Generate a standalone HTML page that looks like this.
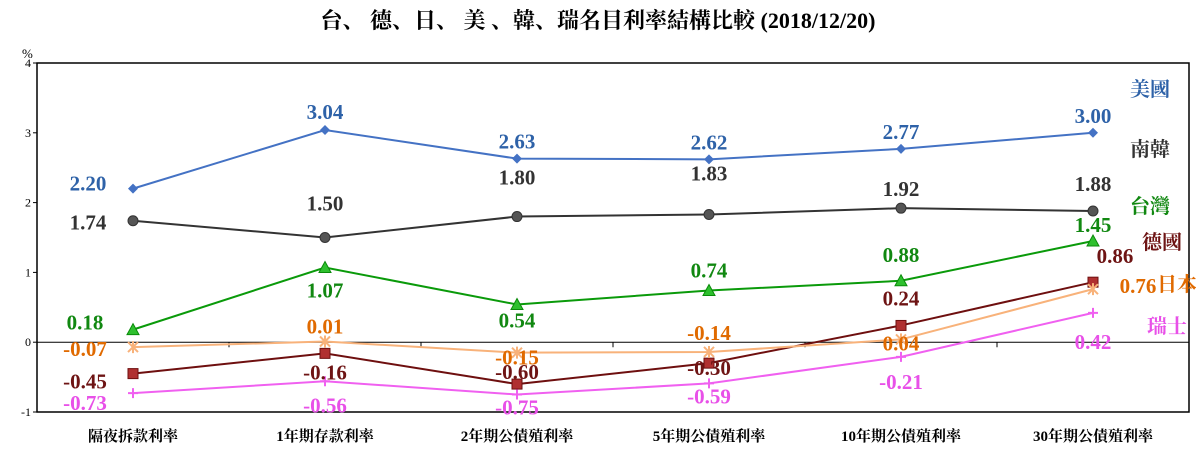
<!DOCTYPE html>
<html><head><meta charset="utf-8"><style>
body{margin:0;background:#fff;}
svg text{font-family:"Liberation Serif","Noto Serif CJK SC","Noto Sans CJK TC",serif;}
</style></head><body>
<svg id="chart" width="1196" height="449" xmlns="http://www.w3.org/2000/svg">
<text x="598" y="28" text-anchor="middle" font-size="22" font-weight="bold">台、 德、日、 美 、韓、瑞名目利率結構比較 (2018/12/20)</text>
<text x="22" y="58" font-size="13">%</text>
<g id="axes"></g><g id="series"></g><g id="labels"></g>
</svg>
<script>
const categories=["隔夜拆款利率","1年期存款利率","2年期公債殖利率","5年期公債殖利率","10年期公債殖利率","30年期公債殖利率"];
const yTicks=[-1,0,1,2,3,4];
const usVals=[2.20,3.04,2.63,2.62,2.77,3.00];
const krVals=[1.74,1.50,1.80,1.83,1.92,1.88];
const twVals=[0.18,1.07,0.54,0.74,0.88,1.45];
const deVals=[-0.45,-0.16,-0.60,-0.30,0.24,0.86];
const jpVals=[-0.07,0.01,-0.15,-0.14,0.04,0.76];
const chVals=[-0.73,-0.56,-0.75,-0.59,-0.21,0.42];
const L=37,R=1189,T=63,B=412;
const x=i=>L+(R-L)/categories.length*(i+0.5);
const y=v=>B-(v+1)/5*(B-T);
const NS="http://www.w3.org/2000/svg";
function mk(p,t,a){const e=document.createElementNS(NS,t);for(const k in a)e.setAttribute(k,a[k]);p.appendChild(e);return e;}
const ax=document.getElementById('axes');
const frame=mk(ax,'rect',{x:L,y:T,width:R-L,height:B-T,fill:'none',stroke:'#000','stroke-width':1.5});


const zl=mk(ax,'line',{x1:L,x2:R,y1:y(0),y2:y(0),stroke:'#000','stroke-width':1});


yTicks.forEach(v=>{
  mk(ax,'line',{x1:L-4,x2:L,y1:y(v),y2:y(v),stroke:'#000'});
  const t=mk(ax,'text',{x:L-6,y:y(v)+4,'text-anchor':'end','font-size':12});
  t.textContent=v;
  
  
});
categories.forEach((c,i)=>{
  const bx=L+(R-L)/categories.length*i;
  if(i>0) mk(ax,'line',{x1:bx,x2:bx,y1:y(0),y2:y(0)+5,stroke:'#000'});
  const t=mk(ax,'text',{x:x(i),y:441,'text-anchor':'middle','font-size':15,'font-weight':'bold'});
  t.textContent=c;
  
  
});
const series=[
 {n:'us',vals:usVals,line:'#4472c4',mark:'#4472c4',lab:'#2e62a8',shape:'diamond',off:[[-45,-5],[0,-18],[0,-17],[0,-17],[0,-17],[0,-17]],leg:'美國',lx:1150,ly:96},
 {n:'korea',vals:krVals,line:'#333',mark:'#555',lab:'#333',shape:'circle',off:[[-45,2],[0,-34],[0,-39],[0,-41],[0,-19],[0,-27]],leg:'南韓',lx:1150,ly:156},
 {n:'taiwan',vals:twVals,line:'#0a9a0a',mark:'#2ec02e',lab:'#118811',shape:'tri',off:[[-48,-7],[0,23],[0,16],[0,-20],[0,-26],[0,-16]],leg:'台灣',lx:1150,ly:213},
 {n:'germany',vals:deVals,line:'#6e0f0f',mark:'#b03030',lab:'#6e1414',shape:'square',off:[[-48,8],[0,19],[0,-12],[0,5],[0,-27],[22,-26]],leg:'德國',lx:1162,ly:249},
 {n:'japan',vals:jpVals,line:'#f8b27a',mark:'#f8b27a',lab:'#e06a00',shape:'star',off:[[-48,2],[0,-15],[0,5],[0,-19],[0,4],[45,-3]],leg:'日本',lx:1177,ly:291},
 {n:'swiss',vals:chVals,line:'#f060f0',mark:'#f060f0',lab:'#e850e8',shape:'plus',off:[[-48,10],[0,24],[0,13],[0,13],[0,25],[0,29]],leg:'瑞士',lx:1167,ly:333}
];
const sg=document.getElementById('series'),lg=document.getElementById('labels');
series.forEach(s=>{
  const g=mk(sg,'g',{});
  
  
  mk(g,'polyline',{points:s.vals.map((v,i)=>x(i)+','+y(v)).join(' '),fill:'none',stroke:s.line,'stroke-width':2});
  s.vals.forEach((v,i)=>{
    const cx=x(i),cy=y(v);let m;
    if(s.shape=='diamond')m=mk(g,'polygon',{points:`${cx},${cy-5} ${cx+5},${cy} ${cx},${cy+5} ${cx-5},${cy}`,fill:s.mark});
    else if(s.shape=='circle')m=mk(g,'circle',{cx:cx,cy:cy,r:5,fill:s.mark,stroke:'#333'});
    else if(s.shape=='tri')m=mk(g,'polygon',{points:`${cx},${cy-6} ${cx+6},${cy+5} ${cx-6},${cy+5}`,fill:s.mark,stroke:'#0a8a0a'});
    else if(s.shape=='square')m=mk(g,'rect',{x:cx-5,y:cy-5,width:10,height:10,fill:s.mark,stroke:'#6e0f0f'});
    else if(s.shape=='star')m=mk(g,'path',{d:`M${cx-5},${cy-5}L${cx+5},${cy+5}M${cx+5},${cy-5}L${cx-5},${cy+5}M${cx},${cy-6}L${cx},${cy+6}`,stroke:s.mark,'stroke-width':2});
    else m=mk(g,'path',{d:`M${cx-5},${cy}L${cx+5},${cy}M${cx},${cy-5}L${cx},${cy+5}`,stroke:s.mark,'stroke-width':2});
    
    
    const t=mk(lg,'text',{x:cx+s.off[i][0],y:cy+s.off[i][1]+7,'text-anchor':'middle','font-size':21,'font-weight':'bold',fill:s.lab});
    t.textContent=v.toFixed(2);
    
    
  });
  const lt=mk(lg,'text',{x:s.lx,y:s.ly,'text-anchor':'middle','font-size':20,'font-weight':'bold',fill:s.lab});
  lt.textContent=s.leg;
  
  
});
</script>
</body></html>
